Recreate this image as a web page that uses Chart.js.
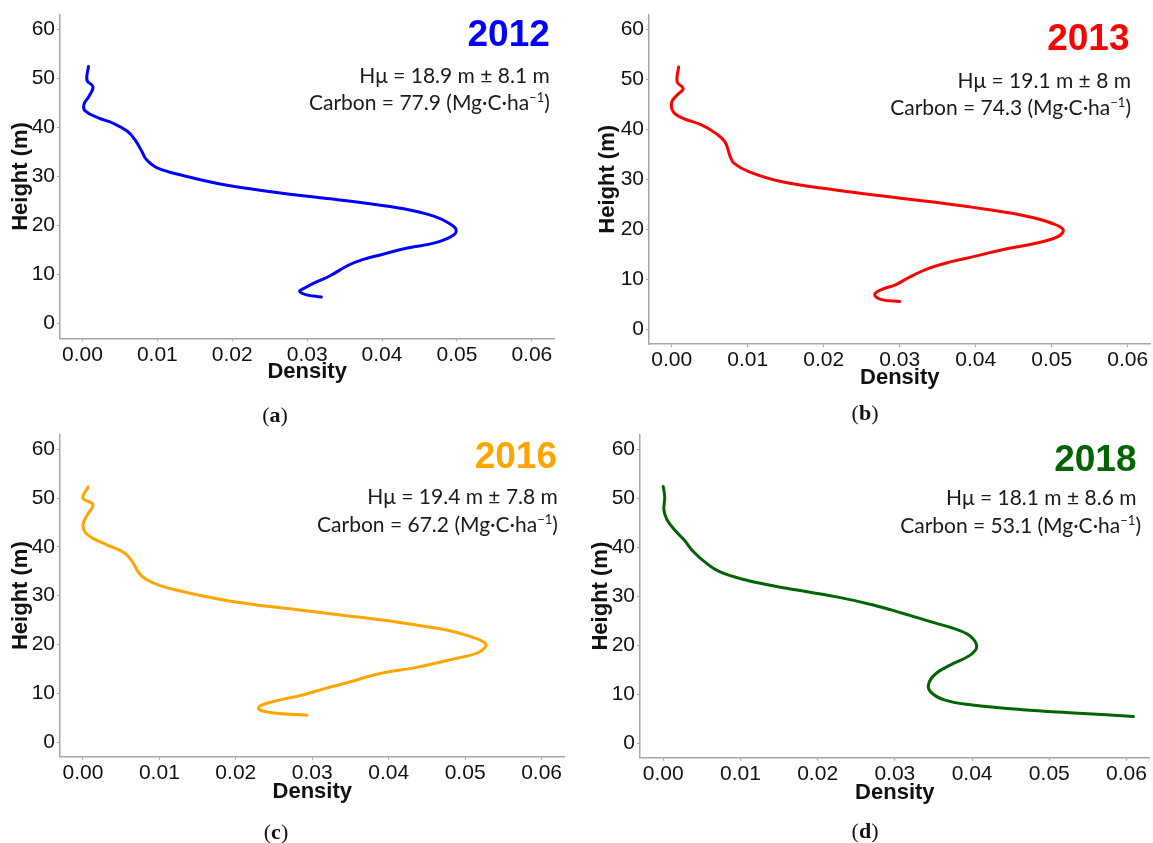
<!DOCTYPE html>
<html>
<head>
<meta charset="utf-8">
<script src="https://cdn.jsdelivr.net/npm/chart.js@4.4.1/dist/chart.umd.min.js"></script>
<style>
  html, body { margin: 0; padding: 0; background: #fff; overflow: hidden; }
  body { width: 1153px; height: 843px; position: relative; }
  canvas { position: absolute; }
  .yr { position: absolute; font-family: 'Liberation Sans', Arial, sans-serif; font-weight: bold; font-size: 37px; line-height: 1; text-align: right; white-space: nowrap; }
  .st { position: absolute; font-family: 'Lato', sans-serif; font-size: 21px; line-height: 1; text-align: right; color: #1a1a1a; white-space: nowrap; }
  .st sup { font-size: 0.62em; vertical-align: 0.6em; line-height: 0; }
  .cap { position: absolute; font-family: 'Liberation Serif', serif; font-size: 22px; line-height: 24px; text-align: center; width: 100px; color: #111; }
</style>
</head>
<body>
<canvas id="c0" width="576" height="400" style="left:0px;top:0px;width:576px;height:400px"></canvas>
<canvas id="c1" width="577" height="400" style="left:576px;top:0px;width:577px;height:400px"></canvas>
<canvas id="c2" width="576" height="400" style="left:0px;top:420px;width:576px;height:400px"></canvas>
<canvas id="c3" width="577" height="400" style="left:576px;top:420px;width:577px;height:400px"></canvas>
<script>
// ---------------- data ----------------
const years = ['2012', '2013', '2016', '2018'];
const panelLetters = ['a', 'b', 'c', 'd'];
const meanHeight = ['18.9', '19.1', '19.4', '18.1'];
const sdHeight = ['8.1', '8', '7.8', '8.6'];
const carbon = ['77.9', '74.3', '67.2', '53.1'];

const xTickValues = [0.00, 0.01, 0.02, 0.03, 0.04, 0.05, 0.06];
const yTickValues = [0, 10, 20, 30, 40, 50, 60];

const height2012 = [52.4, 49.6, 48.3, 46.4, 44.7, 43.3, 41.9, 40.9, 39.2, 37.5, 34.9, 33.5, 31.8, 30.2, 28.2, 26.8, 25.6, 24.6, 23.4, 21.9, 20.4, 19.1, 17.8, 16.4, 15.4, 14.1, 13.1, 11.9, 9.7, 8.4, 7.2, 6.6, 5.9, 5.4];
const density2012 = [0.0008, 0.0006, 0.0014, 0.0009, 0.0002, 0.0004, 0.0022, 0.0040, 0.0060, 0.0070, 0.0080, 0.0085, 0.0099, 0.0134, 0.0193, 0.0257, 0.0321, 0.0376, 0.0429, 0.0469, 0.0490, 0.0499, 0.0493, 0.0469, 0.0434, 0.0400, 0.0375, 0.0355, 0.0330, 0.0311, 0.0296, 0.0290, 0.0298, 0.0319];

const height2013 = [52.5, 49.5, 48.2, 46.9, 45.5, 43.5, 42.2, 40.9, 39.2, 37.5, 34.5, 33.2, 31.5, 29.5, 27.9, 26.5, 25.3, 24.0, 22.6, 21.2, 19.9, 18.5, 17.2, 15.9, 14.5, 13.5, 12.2, 10.5, 8.9, 7.9, 6.9, 5.9, 5.5];
const density2013 = [0.0009, 0.0007, 0.0015, 0.0007, 0.0000, 0.0002, 0.0015, 0.0039, 0.0058, 0.0070, 0.0077, 0.0082, 0.0102, 0.0145, 0.0213, 0.0285, 0.0352, 0.0413, 0.0467, 0.0500, 0.0515, 0.0508, 0.0479, 0.0435, 0.0397, 0.0368, 0.0339, 0.0314, 0.0295, 0.0276, 0.0267, 0.0276, 0.0300];

const height2016 = [52.3, 50.0, 48.7, 46.6, 44.5, 42.5, 40.5, 38.8, 37.1, 34.7, 33.3, 32.0, 30.3, 28.6, 27.2, 25.9, 24.6, 23.2, 21.8, 20.1, 18.4, 17.0, 15.3, 14.0, 12.3, 10.9, 9.6, 8.6, 7.5, 6.7, 6.0, 5.5];
const density2016 = [0.0007, 0.0000, 0.0013, 0.0006, 0.0000, 0.0006, 0.0030, 0.0054, 0.0064, 0.0073, 0.0083, 0.0102, 0.0146, 0.0204, 0.0276, 0.0345, 0.0410, 0.0467, 0.0503, 0.0527, 0.0518, 0.0484, 0.0436, 0.0387, 0.0349, 0.0315, 0.0286, 0.0257, 0.0233, 0.0230, 0.0247, 0.0293];

const height2018 = [52.4, 50.3, 47.6, 45.6, 43.5, 41.5, 39.1, 37.1, 35.0, 33.3, 31.6, 29.9, 28.2, 26.5, 24.8, 23.2, 21.8, 19.7, 18.0, 16.0, 14.3, 12.2, 10.5, 8.8, 7.8, 6.8, 6.1, 5.4];
const density2018 = [0.0000, 0.0002, 0.0001, 0.0005, 0.0015, 0.0027, 0.0039, 0.0053, 0.0073, 0.0107, 0.0160, 0.0223, 0.0272, 0.0310, 0.0346, 0.0380, 0.0398, 0.0406, 0.0398, 0.0373, 0.0354, 0.0344, 0.0346, 0.0364, 0.0398, 0.0465, 0.0538, 0.0609];

const heights = [height2012, height2013, height2016, height2018];
const densities = [density2012, density2013, density2016, density2018];

// ---------------- styles / layout ----------------
const lineColors = ['#0000ff', '#ff0000', '#ffa500', '#006400'];
const axisGray = '#a6a6a6';
const layouts = [
  { canvasH: 400, top: 10.1, right: 21.7, yW: 60, bottom: 338.3, yTitlePad: 8.1, xTitlePad: 15.1 },
  { canvasH: 400, top: 14.3, right: 2.5,  yW: 73, bottom: 344.0, yTitlePad: 19.2, xTitlePad: 8.5 },
  { canvasH: 400, top: 12.5, right: 11.5, yW: 60, bottom: 336.7, yTitlePad: 8.1, xTitlePad: 15.1 },
  { canvasH: 400, top: 14.6, right: 3.3,  yW: 64, bottom: 337.7, yTitlePad: 11.8, xTitlePad: 13.5 }
];
const textPos = [
  { yrRight: 549.8, yrTop: 15.4, st1Right: 549.8, st1Top: 64.1, st2Top: 91.4, st2Right: 549.8, capX: 275, capY: 415 },
  { yrRight: 1129.5, yrTop: 18.7, st1Right: 1131, st1Top: 69.4, st2Top: 96.4, st2Right: 1131, capX: 865, capY: 413 },
  { yrRight: 557, yrTop: 437.0, st1Right: 557.9, st1Top: 484.7, st2Top: 513.1, st2Right: 557.9, capX: 276, capY: 832 },
  { yrRight: 1136.5, yrTop: 440.4, st1Right: 1136.5, st1Top: 486.4, st2Top: 514.4, st2Right: 1141, capX: 865, capY: 831 }
];

Chart.defaults.font.family = "'Liberation Sans', Arial, sans-serif";
Chart.defaults.color = '#111';

function makeChart(i) {
  const L = layouts[i];
  const pts = densities[i].map((d, k) => ({ x: d, y: heights[i][k] }));
  new Chart(document.getElementById('c' + i), {
    type: 'scatter',
    data: {
      datasets: [{
        data: pts,
        showLine: true,
        borderColor: lineColors[i],
        borderWidth: 3,
        pointRadius: 0,
        tension: 0.4,
        fill: false,
        borderCapStyle: 'round',
        borderJoinStyle: 'round'
      }]
    },
    options: {
      responsive: false,
      animation: false,
      events: [],
      layout: { padding: { left: 0, top: L.top, right: L.right, bottom: 0 } },
      plugins: { legend: { display: false }, tooltip: { enabled: false } },
      scales: {
        x: {
          type: 'linear',
          min: -0.003,
          max: 0.063,
          afterBuildTicks: s => { s.ticks = xTickValues.map(v => ({ value: v })); },
          afterFit: s => { s.height = L.canvasH - L.bottom; },
          grid: { drawOnChartArea: false, drawTicks: true, tickLength: 3, tickColor: axisGray, tickWidth: 1.2 },
          border: { color: axisGray, width: 1.5 },
          ticks: { font: { size: 21 }, color: '#111', padding: 1, maxRotation: 0, autoSkip: false,
                   callback: v => Number(v).toFixed(2) },
          title: { display: true, text: 'Density', color: '#111',
                   font: { size: 22, weight: 'bold' }, padding: { top: 0, bottom: L.xTitlePad } }
        },
        y: {
          type: 'linear',
          min: -3,
          max: 63,
          afterBuildTicks: s => { s.ticks = yTickValues.map(v => ({ value: v })); },
          afterFit: s => { s.width = L.yW; },
          grid: { drawOnChartArea: false, drawTicks: true, tickLength: 3, tickColor: axisGray, tickWidth: 1.2 },
          border: { color: axisGray, width: 1.5 },
          ticks: { font: { size: 21 }, color: '#111', padding: 2, autoSkip: false,
                   callback: v => String(v) },
          title: { display: true, text: 'Height (m)', color: '#111',
                   font: { size: 22, weight: 'bold' }, padding: { top: L.yTitlePad, bottom: 0 } }
        }
      }
    }
  });
}

function addText(i) {
  const P = textPos[i];
  const body = document.body;
  const yr = document.createElement('div');
  yr.className = 'yr';
  yr.style.left = '0px';
  yr.style.width = P.yrRight + 'px';
  yr.style.top = P.yrTop + 'px';
  yr.style.color = lineColors[i];
  yr.textContent = years[i];
  body.appendChild(yr);

  const s1 = document.createElement('div');
  s1.className = 'st';
  s1.style.left = '0px';
  s1.style.width = P.st1Right + 'px';
  s1.style.top = P.st1Top + 'px';
  s1.textContent = 'Hμ = ' + meanHeight[i] + ' m ± ' + sdHeight[i] + ' m';
  body.appendChild(s1);

  const s2 = document.createElement('div');
  s2.className = 'st';
  s2.style.left = '0px';
  s2.style.width = P.st2Right + 'px';
  s2.style.top = P.st2Top + 'px';
  s2.innerHTML = 'Carbon = ' + carbon[i] + ' (Mg·C·ha<sup>−1</sup>)';
  body.appendChild(s2);

  const cap = document.createElement('div');
  cap.className = 'cap';
  cap.style.left = (P.capX - 50) + 'px';
  cap.style.top = (P.capY - 12) + 'px';
  cap.innerHTML = '(<b>' + panelLetters[i] + '</b>)';
  body.appendChild(cap);
}

for (let i = 0; i < 4; i++) { makeChart(i); addText(i); }
</script>
</body>
</html>
